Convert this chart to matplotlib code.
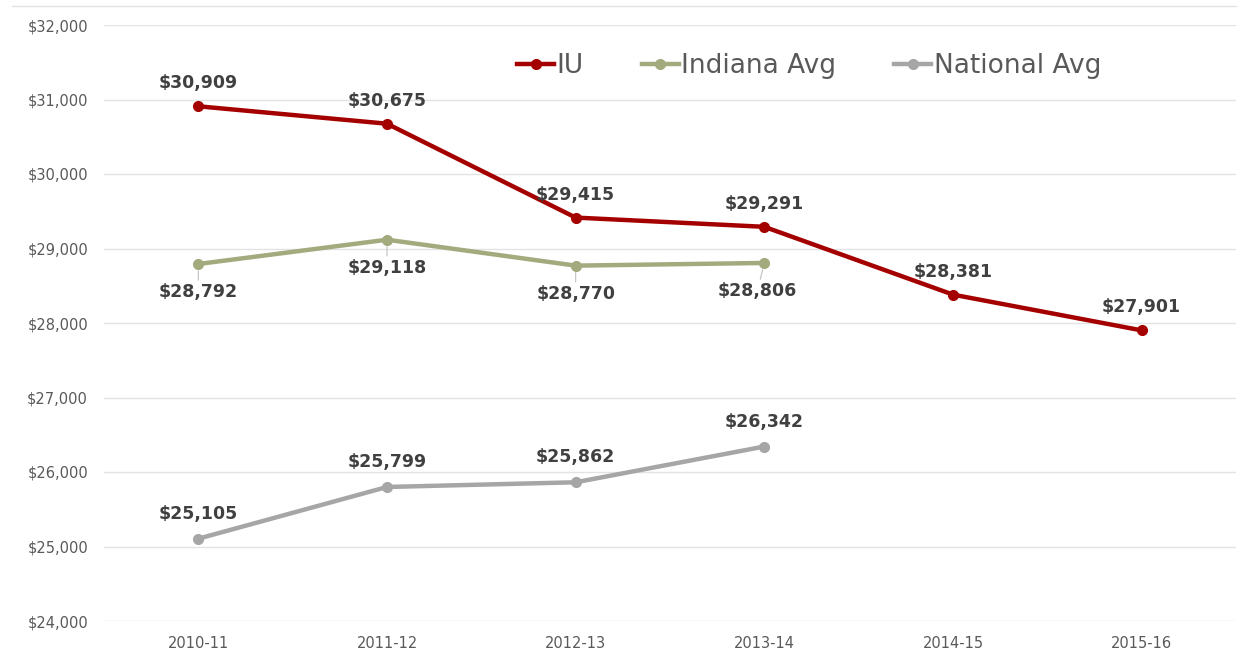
import matplotlib
matplotlib.use("Agg")
import matplotlib.pyplot as plt
from matplotlib.ticker import FuncFormatter
from matplotlib.lines import Line2D

years = ["2010-11", "2011-12", "2012-13", "2013-14", "2014-15", "2015-16"]
iu = [30909, 30675, 29415, 29291, 28381, 27901]
indiana = [28792, 29118, 28770, 28806]
national = [25105, 25799, 25862, 26342]
yticks = [24000, 25000, 26000, 27000, 28000, 29000, 30000, 31000, 32000]

c_iu = "#A50000"
c_ind = "#A3AA7E"
c_nat = "#A6A6A6"
c_lab = "#404040"
font = "DejaVu Sans"

fig = plt.figure(figsize=(12.48, 6.51), dpi=100)
ax = fig.add_axes([104/1248, 1-621/651, (1236-104)/1248, (621-25)/651])

x_iu = list(range(len(iu)))
x_ind = list(range(len(indiana)))
x_nat = list(range(len(national)))

ax.plot(x_iu, iu, color=c_iu, lw=3.2, marker="o", ms=7, label="IU", zorder=3)
ax.plot(x_ind, indiana, color=c_ind, lw=3.2, marker="o", ms=7, label="Indiana Avg", zorder=3)
ax.plot(x_nat, national, color=c_nat, lw=3.2, marker="o", ms=7, label="National Avg", zorder=3)

def lab(x, y, dy, dx=0, leader=False):
    kw = {}
    if leader:
        kw["arrowprops"] = dict(arrowstyle="-", color="#BFBFBF", lw=0.8, shrinkA=0, shrinkB=5)
    ax.annotate(f"${y:,}", xy=(x, y), xytext=(dx, dy), textcoords="offset pixels",
                ha="center", va="center", fontsize=12.5, fontweight="bold",
                color=c_lab, family=font, zorder=4, **kw)

for i, v in enumerate(iu):
    lab(i, v, 23)
for i, v in enumerate(indiana):
    dx = -7 if i == 3 else 0
    lab(i, v, -28, dx=dx, leader=True)
for i, v in enumerate(national):
    lab(i, v, 25)

ax.set_xlim(-0.5, len(years) - 0.5)
ax.set_ylim(24000, 32000)
ax.set_yticks(yticks)
ax.yaxis.set_major_formatter(FuncFormatter(lambda v, p: f"${int(v):,}"))
ax.set_xticks(range(len(years)))
ax.set_xticklabels(years)
ax.tick_params(axis="both", length=0, labelsize=10.5, labelcolor="#595959")
ax.tick_params(axis="x", pad=11)
ax.tick_params(axis="y", pad=11.5)
for t in ax.get_xticklabels() + ax.get_yticklabels():
    t.set_family(font)
ax.grid(axis="y", color="#E3E3E3", lw=1)
ax.set_axisbelow(True)
for s in ax.spines.values():
    s.set_visible(False)

leg = ax.legend(loc="center", bbox_to_anchor=(0.623, 0.931), ncol=3, frameon=False,
                handlelength=1.4, handletextpad=0.1, columnspacing=2.2,
                prop={"family": font, "size": 19})
for t in leg.get_texts():
    t.set_color("#595959")

fig.add_artist(Line2D([12/1248, 1236/1248], [1-6/651, 1-6/651], color="#E3E3E3", lw=1))

fig.savefig("out.png", dpi=100, facecolor="white")
